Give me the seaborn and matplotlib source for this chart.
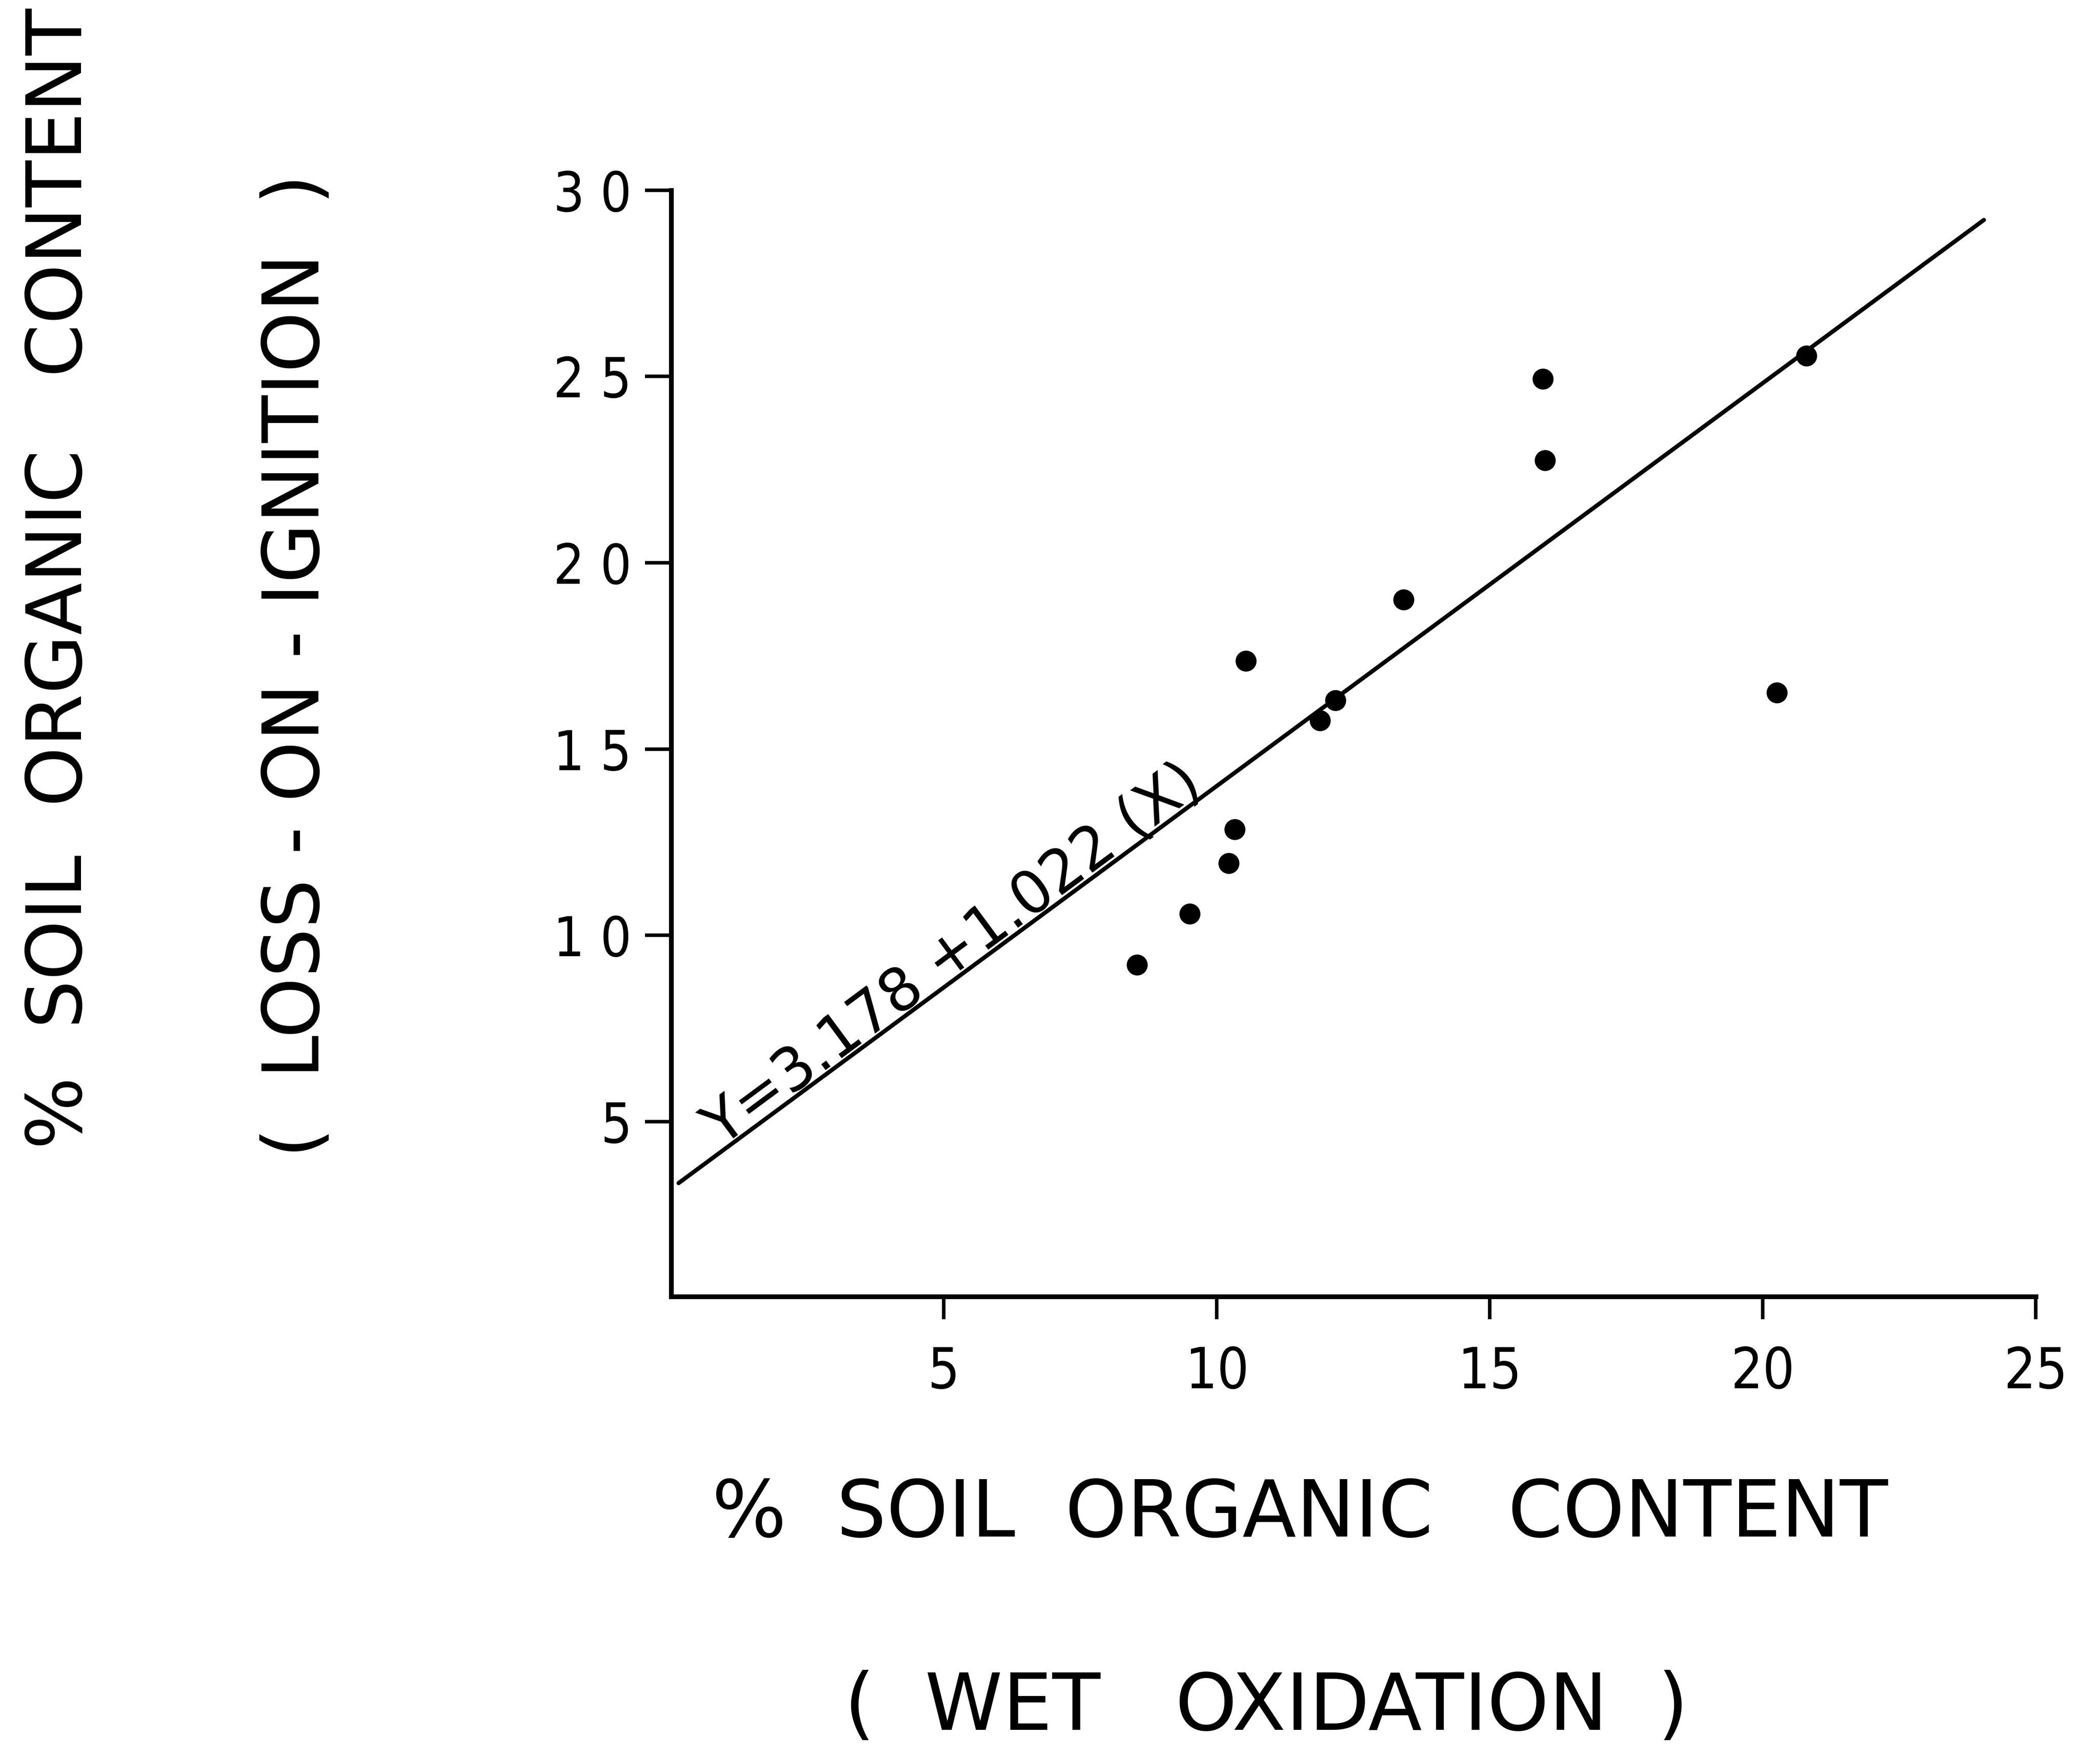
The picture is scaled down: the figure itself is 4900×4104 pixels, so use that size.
import matplotlib
matplotlib.use("Agg")
import matplotlib.pyplot as plt
import seaborn as sns
import pandas as pd

# values
wet_oxidation = [8.54, 9.50, 10.22, 10.33, 10.53, 11.89, 12.17, 13.42, 15.97, 16.01, 20.26, 20.80]
loss_on_ignition = [9.21, 10.58, 11.94, 12.84, 17.36, 15.77, 16.31, 19.01, 24.93, 22.75, 16.51, 25.56]
fit_x = [0.14, 24.05]
fit_y = [3.35, 29.2]
x_ticks = [5, 10, 15, 20, 25]
x_tick_labels = ["5", "10", "15", "20", "25"]
y_ticks = [5, 10, 15, 20, 25, 30]
y_tick_labels = ["5", "1 0", "1 5", "2 0", "2 5", "3 0"]
equation = "Y=3.178 +1.022 (X)"

df = pd.DataFrame({"wet": wet_oxidation, "loi": loss_on_ignition})
fit = pd.DataFrame({"x": fit_x, "y": fit_y})

sns.set_style("ticks")
plt.rcParams["font.family"] = ["DejaVu Sans"]
plt.rcParams["text.color"] = "black"

fig = plt.figure(figsize=(24.5, 20.52), dpi=200)
ax = fig.add_axes([0.3195, 0.2628, 0.9694 - 0.3195, 0.8919 - 0.2628])

sns.lineplot(data=fit, x="x", y="y", ax=ax, color="black", linewidth=3.5)
sns.scatterplot(data=df, x="wet", y="loi", ax=ax, color="black", s=310, edgecolor="black", linewidth=0)

ax.set_xlim(0, 25)
ax.set_ylim(0.3, 30)
ax.set_xticks(x_ticks)
ax.set_xticklabels(x_tick_labels, fontstretch="condensed")
ax.set_yticks(y_ticks)
ax.set_yticklabels(y_tick_labels, fontstretch="condensed")
ax.set_xlabel("")
ax.set_ylabel("")
sns.despine(ax=ax)
for s in ["left", "bottom"]:
    ax.spines[s].set_linewidth(4)
    ax.spines[s].set_color("black")
ax.tick_params(axis="x", length=19, width=3, pad=22, labelsize=47, colors="black")
ax.tick_params(axis="y", length=22, width=3, pad=11, labelsize=46, colors="black")

ax.text(5.17, 9.46, equation, rotation=36.5, rotation_mode="anchor",
        ha="center", va="center", fontsize=50)

fig.text(0.619, 0.139, "%  SOIL  ORGANIC   CONTENT", ha="center", va="center", fontsize=66)
fig.text(0.603, 0.029, "(  WET   OXIDATION  )", ha="center", va="center", fontsize=66)
fig.text(0.0287, 0.671, "%  SOIL  ORGANIC   CONTENT", ha="center", va="center", fontsize=64, rotation=90)
fig.text(0.1416, 0.6215, "(  LOSS - ON - IGNITION  )", ha="center", va="center", fontsize=65, rotation=90)

fig.savefig("out.png", dpi=200, facecolor="white")
